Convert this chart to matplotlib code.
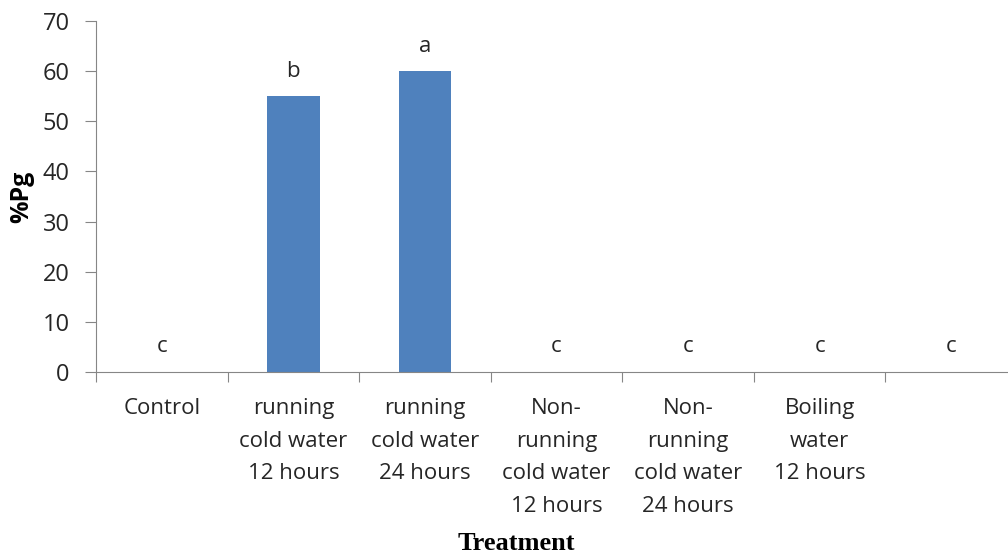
import matplotlib.pyplot as plt

# Treatments (x categories), values and significance letters
treatments = ["Control", "running\ncold water\n12 hours", "running\ncold water\n24 hours",
              "Non-\nrunning\ncold water\n12 hours", "Non-\nrunning\ncold water\n24 hours",
              "Boiling\nwater\n12 hours", ""]
pg = [0, 55, 60, 0, 0, 0, 0]
letters = ["c", "b", "a", "c", "c", "c", "c"]

FS = 16


def main():
    fig = plt.figure(figsize=(10.08, 5.56), dpi=100)
    # axis runs off the right edge in the reference
    ax = fig.add_axes([96 / 1008, 1 - 372 / 556, 921 / 1008, 351 / 556])

    pos = list(range(len(treatments)))
    ax.bar(pos, pg, width=0.4, color="#4F81BD")
    for p, v, t in zip(pos, pg, letters):
        ax.text(p, v + 5, t, ha="center", va="center", fontsize=FS,
                family="Open Sans", color="#262626")

    ax.set_xlim(-0.5, len(treatments) - 0.5)
    ax.set_ylim(0, 70)
    ax.set_yticks(range(0, 71, 10))
    ax.set_xticks([p + 0.5 for p in pos[:-1]] + [-0.5], minor=False)
    ax.set_xticklabels([])
    ax.set_xticks(pos, minor=True)
    ax.set_xticklabels(treatments, minor=True, fontsize=FS, family="Open Sans",
                       color="#262626", linespacing=1.72)
    ax.tick_params(axis="x", which="major", direction="out", length=7,
                   color="#868686")
    ax.tick_params(axis="x", which="minor", length=0, pad=19)
    ax.tick_params(axis="y", direction="out", length=8, color="#868686",
                   labelsize=17, pad=11, labelcolor="#262626")
    for lbl in ax.get_yticklabels():
        lbl.set_family("Open Sans")

    for s in ["top", "right"]:
        ax.spines[s].set_visible(False)
    for s in ["left", "bottom"]:
        ax.spines[s].set_color("#868686")

    ax.set_ylabel("%Pg", fontsize=18, fontweight="bold", family="Open Sans")
    ax.yaxis.set_label_coords(-62 / 921, 0.5)
    fig.text(516 / 1008, 1 - 543 / 556, "Treatment", ha="center", va="center",
             fontsize=19, fontweight="bold", family="Liberation Serif")

    fig.savefig("out.png", dpi=100)


if __name__ == '__main__':
    main()
